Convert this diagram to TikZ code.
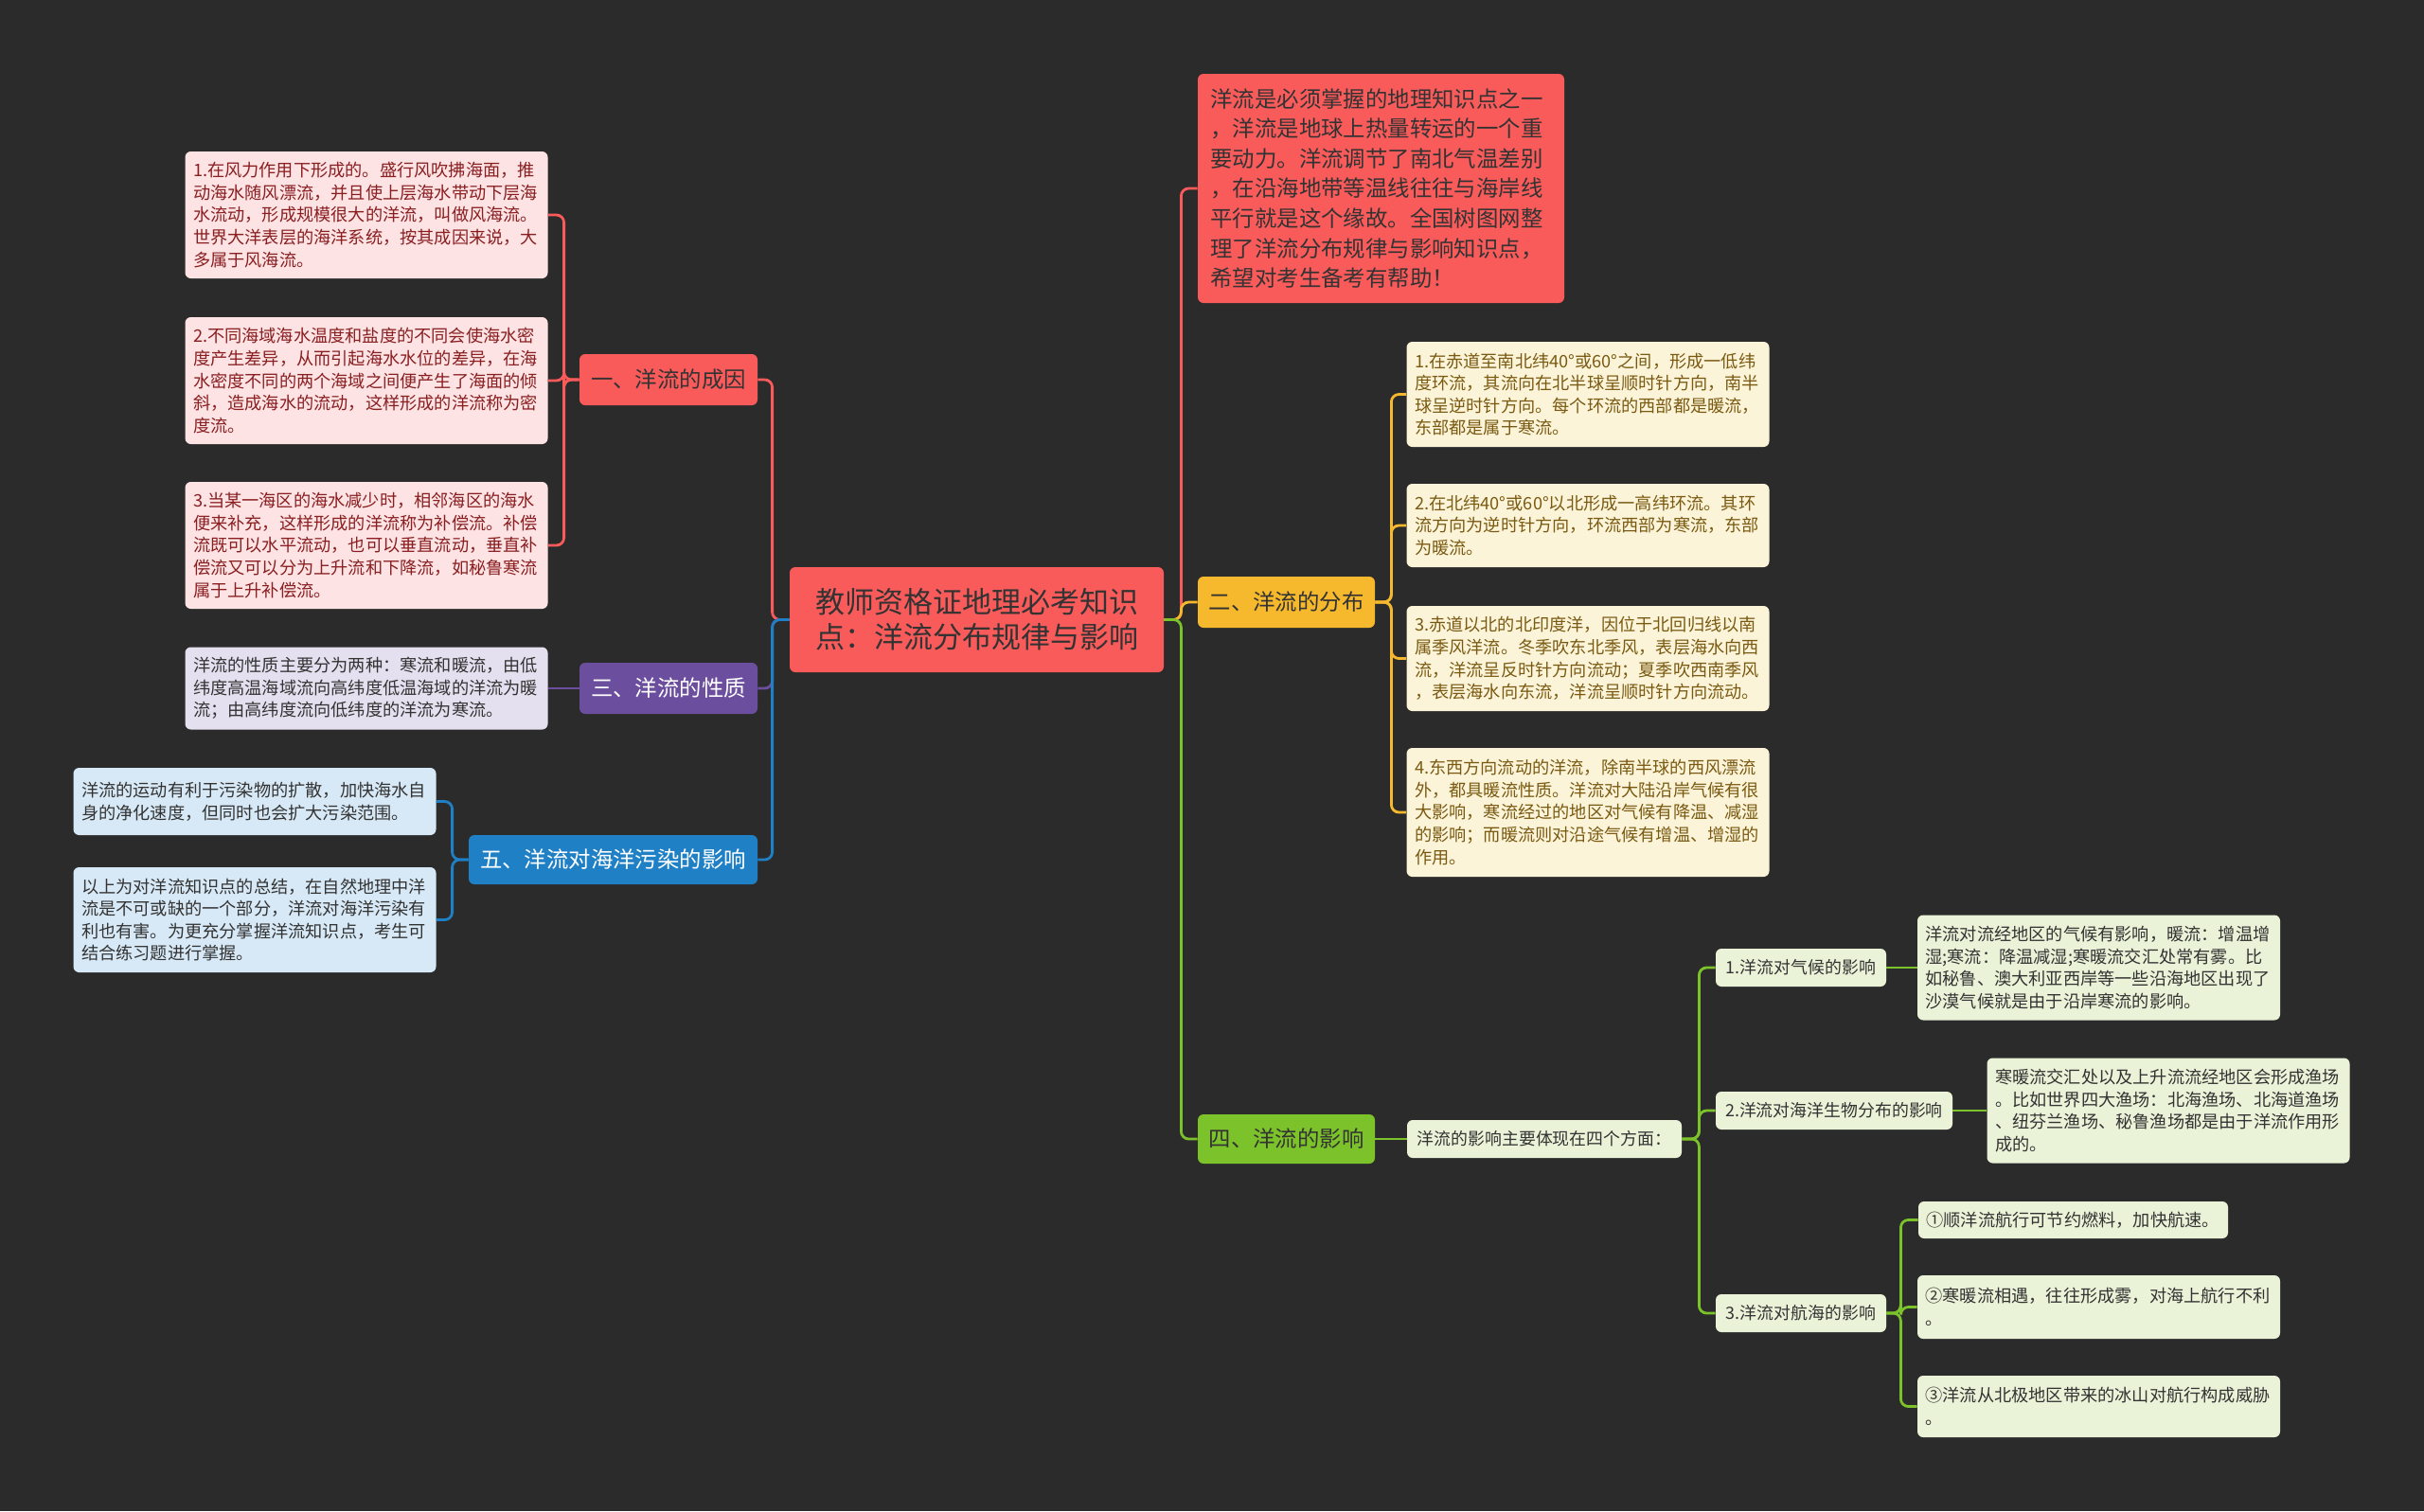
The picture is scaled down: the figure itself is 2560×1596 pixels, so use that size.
\documentclass[tikz,border=0pt]{standalone}
\usepackage{fontspec}
\setmainfont{Noto Sans CJK SC}
\usetikzlibrary{positioning}
\definecolor{bgDark}{HTML}{2B2B2B}
\definecolor{brRed}{HTML}{F95A5A}
\definecolor{lfRed}{HTML}{FDE3E3}
\definecolor{txRed}{HTML}{8A1F22}
\definecolor{brPur}{HTML}{6B4E9E}
\definecolor{lfPur}{HTML}{E4E0EF}
\definecolor{brBlu}{HTML}{1F80C6}
\definecolor{lfBlu}{HTML}{D7E9F6}
\definecolor{brYel}{HTML}{F6B82C}
\definecolor{lfYel}{HTML}{FCF4D8}
\definecolor{txYel}{HTML}{7A5A12}
\definecolor{brGrn}{HTML}{7CC22B}
\definecolor{lfGrn}{HTML}{EAF3D8}
\definecolor{txDark}{HTML}{333333}

\begin{document}
\begin{tikzpicture}[x=0.5pt,y=-0.5pt,
  every node/.style={rounded corners=3pt,inner sep=0pt},
  mainbox/.style={fill=brRed,text=txDark,align=left},
  branch/.style={font=\fontsize{11.7}{14}\selectfont,minimum height=27pt},
  leaf/.style={font=\fontsize{9.1}{11.8}\selectfont,text width=183pt,inner xsep=4.25pt,align=left},
  sub/.style={font=\fontsize{8.95}{11}\selectfont,fill=lfGrn,text=txDark,minimum height=20pt},
  conn/.style={line width=1.4pt,rounded corners=4pt}]
\fill[bgDark] (0,0) rectangle (2560,1596);

% centre and intro
\node[mainbox,align=center,font=\fontsize{15.5}{18.3}\selectfont,minimum width=197.5pt,minimum height=55.5pt] (root) at (1031.5,654.5)
  {教师资格证地理必考知识\\点：洋流分布规律与影响};
\node[mainbox,font=\fontsize{11.7}{15.8}\selectfont,text width=180pt,inner xsep=6.75pt,minimum height=121pt] (intro) at (1458.5,199)
  {洋流是必须掌握的地理知识点之一\\，洋流是地球上热量转运的一个重\\要动力。洋流调节了南北气温差别\\，在沿海地带等温线往往与海岸线\\平行就是这个缘故。全国树图网整\\理了洋流分布规律与影响知识点，\\希望对考生备考有帮助！};

% left branches
\node[branch,fill=brRed,text=txDark,minimum width=94pt] (b1) at (706,401) {一、洋流的成因};
\node[branch,fill=brPur,text=white,minimum width=94pt] (b3) at (706,727) {三、洋流的性质};
\node[branch,fill=brBlu,text=white,minimum width=152.5pt,minimum height=26pt] (b5) at (647.5,908) {五、洋流对海洋污染的影响};

\node[leaf,fill=lfRed,text=txRed,minimum height=67pt] (l1a) at (387,227)
  {1.在风力作用下形成的。盛行风吹拂海面，推\\动海水随风漂流，并且使上层海水带动下层海\\水流动，形成规模很大的洋流，叫做风海流。\\世界大洋表层的海洋系统，按其成因来说，大\\多属于风海流。};
\node[leaf,fill=lfRed,text=txRed,minimum height=67pt] (l1b) at (387,402)
  {2.不同海域海水温度和盐度的不同会使海水密\\度产生差异，从而引起海水水位的差异，在海\\水密度不同的两个海域之间便产生了海面的倾\\斜，造成海水的流动，这样形成的洋流称为密\\度流。};
\node[leaf,fill=lfRed,text=txRed,minimum height=67pt] (l1c) at (387,576)
  {3.当某一海区的海水减少时，相邻海区的海水\\便来补充，这样形成的洋流称为补偿流。补偿\\流既可以水平流动，也可以垂直流动，垂直补\\偿流又可以分为上升流和下降流，如秘鲁寒流\\属于上升补偿流。};
\node[leaf,fill=lfPur,text=txDark,minimum height=43.5pt] (l3) at (387,727)
  {洋流的性质主要分为两种：寒流和暖流，由低\\纬度高温海域流向高纬度低温海域的洋流为暖\\流；由高纬度流向低纬度的洋流为寒流。};
\node[leaf,fill=lfBlu,text=txDark,minimum height=35.5pt] (l5a) at (269,846.5)
  {洋流的运动有利于污染物的扩散，加快海水自\\身的净化速度，但同时也会扩大污染范围。};
\node[leaf,fill=lfBlu,text=txDark,minimum height=55.5pt] (l5b) at (269,971.5)
  {以上为对洋流知识点的总结，在自然地理中洋\\流是不可或缺的一个部分，洋流对海洋污染有\\利也有害。为更充分掌握洋流知识点，考生可\\结合练习题进行掌握。};

% right branches
\node[branch,fill=brYel,text=txDark,minimum width=93.5pt] (b2) at (1358.5,636) {二、洋流的分布};
\node[branch,fill=brGrn,text=txDark,minimum width=93.5pt,minimum height=26pt] (b4) at (1358.5,1203) {四、洋流的影响};

\node[leaf,fill=lfYel,text=txYel,minimum height=55.5pt] (d1) at (1677,416.5)
  {1.在赤道至南北纬40°或60°之间，形成一低纬\\度环流，其流向在北半球呈顺时针方向，南半\\球呈逆时针方向。每个环流的西部都是暖流，\\东部都是属于寒流。};
\node[leaf,fill=lfYel,text=txYel,minimum height=44pt] (d2) at (1677,555)
  {2.在北纬40°或60°以北形成一高纬环流。其环\\流方向为逆时针方向，环流西部为寒流，东部\\为暖流。};
\node[leaf,fill=lfYel,text=txYel,minimum height=55.5pt] (d3) at (1677,695.5)
  {3.赤道以北的北印度洋，因位于北回归线以南\\属季风洋流。冬季吹东北季风，表层海水向西\\流，洋流呈反时针方向流动；夏季吹西南季风\\，表层海水向东流，洋流呈顺时针方向流动。};
\node[leaf,fill=lfYel,text=txYel,minimum height=68pt] (d4) at (1677,858)
  {4.东西方向流动的洋流，除南半球的西风漂流\\外，都具暖流性质。洋流对大陆沿岸气候有很\\大影响，寒流经过的地区对气候有降温、减湿\\的影响；而暖流则对沿途气候有增温、增湿的\\作用。};

\node[sub,minimum width=145pt] (sum) at (1631,1203) {洋流的影响主要体现在四个方面：};
\node[sub,minimum width=90pt] (c1) at (1902,1022) {1.洋流对气候的影响};
\node[sub,minimum width=125pt] (c2) at (1937,1173) {2.洋流对海洋生物分布的影响};
\node[sub,minimum width=90pt] (c3) at (1902,1387) {3.洋流对航海的影响};

\node[leaf,fill=lfGrn,text=txDark,minimum height=55.5pt] (clim) at (2216.5,1022)
  {洋流对流经地区的气候有影响，暖流：增温增\\湿;寒流：降温减湿;寒暖流交汇处常有雾。比\\如秘鲁、澳大利亚西岸等一些沿海地区出现了\\沙漠气候就是由于沿岸寒流的影响。};
\node[leaf,fill=lfGrn,text=txDark,minimum height=55.5pt] (fish) at (2290,1173)
  {寒暖流交汇处以及上升流流经地区会形成渔场\\。比如世界四大渔场：北海渔场、北海道渔场\\、纽芬兰渔场、秘鲁渔场都是由于洋流作用形\\成的。};
\node[leaf,fill=lfGrn,text=txDark,text width=155pt,minimum height=19.5pt] (n1) at (2189.5,1288.5) {①顺洋流航行可节约燃料，加快航速。};
\node[leaf,fill=lfGrn,text=txDark,minimum height=33.5pt] (n2) at (2216.5,1380.5)
  {②寒暖流相遇，往往形成雾，对海上航行不利\\。};
\node[leaf,fill=lfGrn,text=txDark,minimum height=32.5pt] (n3) at (2216.5,1485.5)
  {③洋流从北极地区带来的冰山对航行构成威胁\\。};

% connectors
\draw[conn,brRed] (root.west) -- ++(-18,0) |- (b1.east);
\draw[conn,brPur] (root.west) -- ++(-18,0) |- (b3.east);
\draw[conn,brBlu] (root.west) -- ++(-18,0) |- (b5.east);
\foreach \n in {l1a,l1b,l1c}
  \draw[conn,brRed] (b1.west) -- ++(-16,0) |- (\n.east);
\draw[conn,brPur] (b3.west) -- (l3.east);
\foreach \n in {l5a,l5b}
  \draw[conn,brBlu] (b5.west) -- ++(-17,0) |- (\n.east);

\draw[conn,brRed] (root.east) -- ++(18,0) |- (intro.west);
\draw[conn,brYel] (root.east) -- ++(18,0) |- (b2.west);
\draw[conn,brGrn] (root.east) -- ++(18,0) |- (b4.west);
\foreach \n in {d1,d2,d3,d4}
  \draw[conn,brYel] (b2.east) -- ++(17,0) |- (\n.west);
\draw[conn,brGrn] (b4.east) -- (sum.west);
\foreach \n in {c1,c2,c3}
  \draw[conn,brGrn] (sum.east) -- ++(18,0) |- (\n.west);
\draw[conn,brGrn] (c1.east) -- (clim.west);
\draw[conn,brGrn] (c2.east) -- (fish.west);
\foreach \n in {n1,n2,n3}
  \draw[conn,brGrn] (c3.east) -- ++(15,0) |- (\n.west);
\end{tikzpicture}
\end{document}
